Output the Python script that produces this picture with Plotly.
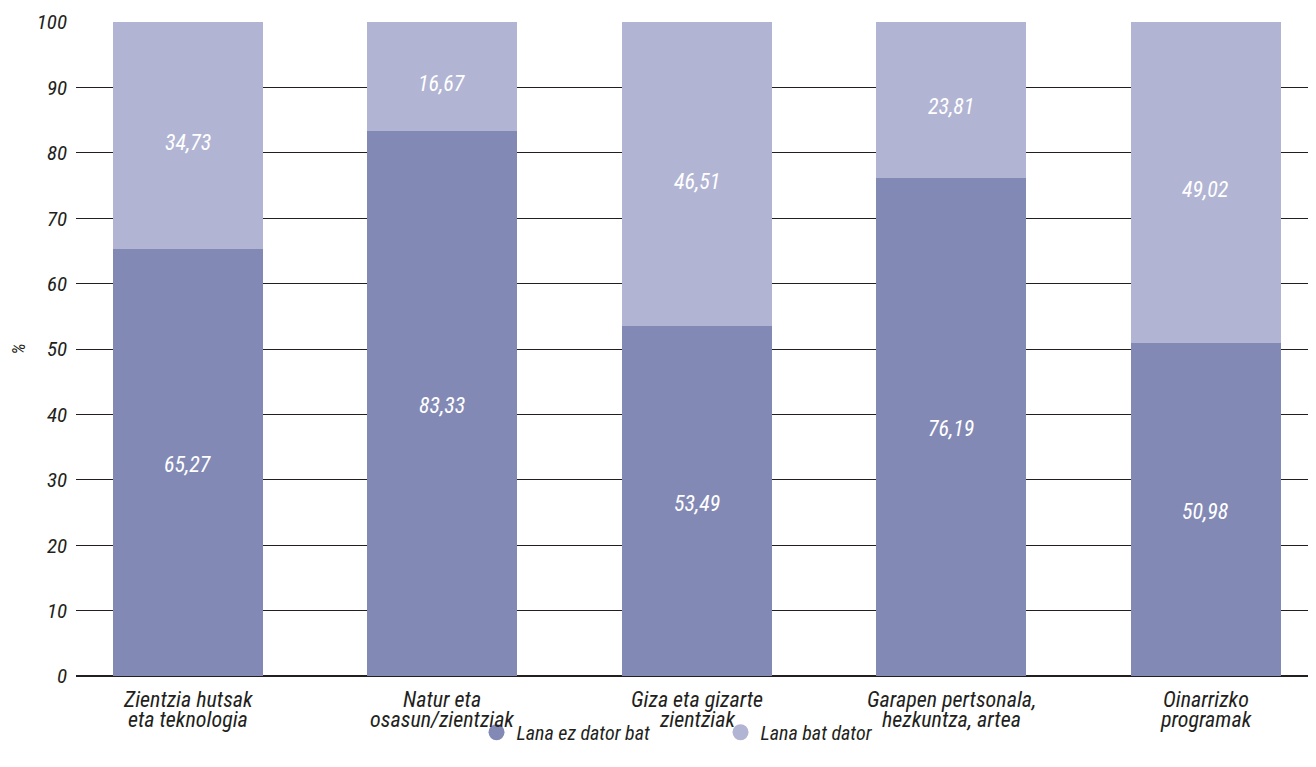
import plotly.graph_objects as go

categories = ["Zientzia hutsak<br>eta teknologia", "Natur eta<br>osasun/zientziak",
              "Giza eta gizarte<br>zientziak", "Garapen pertsonala,<br>hezkuntza, artea",
              "Oinarrizko<br>programak"]
ez_dator = [65.27, 83.33, 53.49, 76.19, 50.98]
bat_dator = [34.73, 16.67, 46.51, 23.81, 49.02]
series_names = ["Lana ez dator bat", "Lana bat dator"]
colors = ["#8389b5", "#b1b4d3"]
y_ticks = list(range(0, 101, 10))

FONT = "Roboto Condensed, DejaVu Sans Condensed, sans-serif"
TXT = "#231f20"
xs = list(range(len(categories)))

# page body has an 8px margin in the browser; compensate
OFF = 8

fig = go.Figure()
for vals, name, col in [(ez_dator, series_names[0], colors[0]), (bat_dator, series_names[1], colors[1])]:
    fig.add_trace(go.Bar(
        x=xs, y=vals, name=name, marker=dict(color=col, line=dict(width=0)),
        width=0.59, showlegend=False, hoverinfo="y",
    ))
for name, col in zip(series_names, colors):
    fig.add_trace(go.Scatter(
        x=[None], y=[None], mode="markers", name=name,
        marker=dict(symbol="circle", size=17, color=col),
    ))

# value labels inside the segments
for i in xs:
    lo, hi = ez_dator[i], bat_dator[i]
    for val, mid, shift in [(lo, lo / 2, -2), (hi, lo + hi / 2, -7)]:
        fig.add_annotation(x=i, y=mid, xref="x", yref="y", yshift=shift,
                           text=f"{val:.2f}".replace(".", ","), showarrow=False,
                           font=dict(family=FONT, size=22, color="white", style="italic"))

# category labels, line by line (tight leading as in the reference)
for i, cat in enumerate(categories):
    for j, line in enumerate(cat.split("<br>")):
        fig.add_annotation(x=i, y=0, xref="x", yref="paper", yanchor="middle",
                           yshift=-23 - 20 * j, text=line, showarrow=False,
                           font=dict(family=FONT, size=22, color=TXT, style="italic"))

fig.update_layout(
    barmode="stack",
    separators=",.",
    width=1316, height=767,
    margin=dict(l=76 - OFF, r=OFF, t=22 - OFF, b=91 + OFF, autoexpand=False),
    plot_bgcolor="white", paper_bgcolor="white",
    font=dict(family=FONT, size=20, color=TXT, style="italic"),
    legend=dict(orientation="h", x=0.323, xanchor="left", y=-0.086, yanchor="middle",
                entrywidth=199, entrywidthmode="pixels", traceorder="normal",
                font=dict(family=FONT, size=20, color=TXT, style="italic"),
                itemsizing="trace"),
    xaxis=dict(tickmode="array", tickvals=xs, showticklabels=False, automargin=False,
               range=[-0.44, 4.434], showgrid=False, zeroline=False,
               showline=False, ticks=""),
    yaxis=dict(range=[0, 100], tickvals=y_ticks, showgrid=True, gridcolor=TXT,
               gridwidth=1.3, zeroline=True, zerolinecolor=TXT, zerolinewidth=1.5,
               showline=False, ticks="", ticklabelstandoff=8, automargin=False,
               tickfont=dict(family=FONT, size=21, style="italic", color=TXT),
               title=dict(text="%", font=dict(family=FONT, size=18, style="italic", color=TXT), standoff=24)),
)

fig.write_html("out.html")
